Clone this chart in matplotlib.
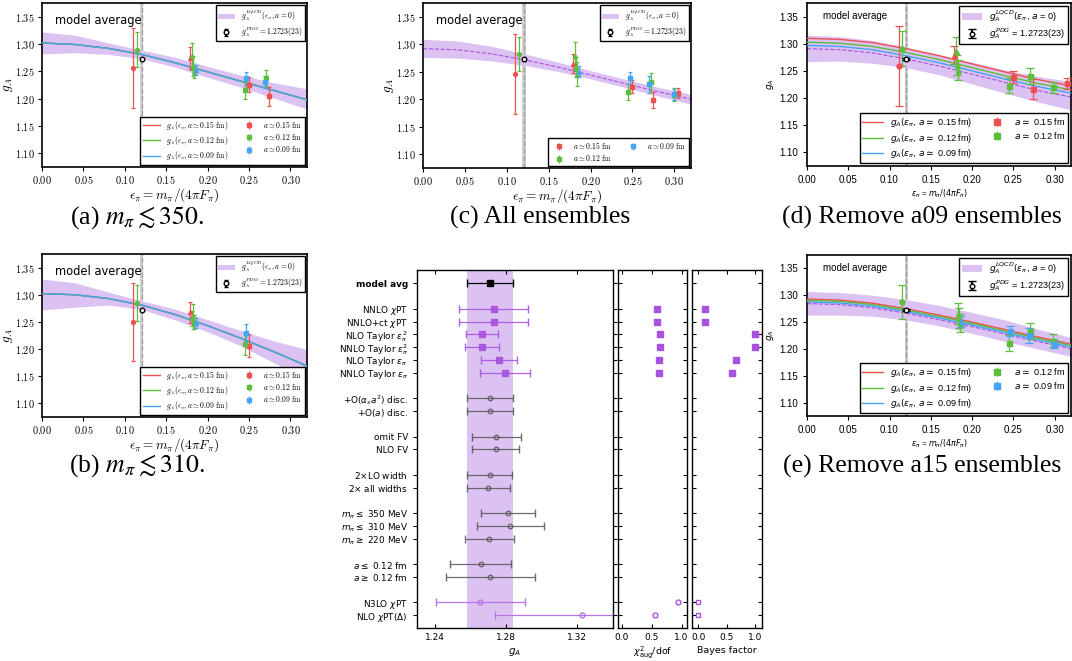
import matplotlib
matplotlib.use('Agg')
from matplotlib import pyplot as plt
from matplotlib.patches import Patch
from matplotlib.ticker import FuncFormatter

plt.rcParams['mathtext.fontset'] = 'cm'
plt.rcParams['font.family'] = ['DejaVu Sans']

W, H = 1072, 661

C15 = '#ee5050'
C12 = '#5cbf3c'
C09 = '#45a5f5'
BAND = '#dcc2f2'
PURPLE = '#a852e0'
PHYS_EPS = 0.1206
PDG_GA = 1.2723
PDG_ERR = 0.0023

# ---- fit curves, read at these epsilon values ----
eps_grid = [0.00, 0.04, 0.08, 0.12, 0.16, 0.20, 0.24, 0.28, 0.32]

# (a) m_pi <~ 350
a_center = [1.302, 1.299, 1.292, 1.281, 1.266, 1.249, 1.232, 1.215, 1.198]
a_upper = [1.322, 1.316, 1.302, 1.289, 1.276, 1.259, 1.243, 1.229, 1.218]
a_lower = [1.282, 1.284, 1.281, 1.273, 1.258, 1.239, 1.221, 1.201, 1.181]
a_eps15 = [0.110, 0.179, 0.2496, 0.2743]
a_ga15 = [1.2556, 1.274, 1.2253, 1.2043]
a_err15 = [0.073, 0.020, 0.014, 0.017]
a_eps12 = [0.1143, 0.181, 0.182, 0.184, 0.2448, 0.2706]
a_ga12 = [1.2895, 1.2772, 1.2593, 1.2494, 1.216, 1.2376]
a_err12 = [0.032, 0.024, 0.018, 0.012, 0.017, 0.014]
a_eps09 = [0.186, 0.2464, 0.269]
a_ga09 = [1.2525, 1.2376, 1.231]
a_err09 = [0.009, 0.012, 0.011]

# (b) m_pi <~ 310
b_center = [1.302, 1.300, 1.293, 1.281, 1.264, 1.243, 1.220, 1.195, 1.169]
b_upper = [1.329, 1.322, 1.305, 1.289, 1.274, 1.254, 1.234, 1.215, 1.199]
b_lower = [1.272, 1.277, 1.281, 1.273, 1.254, 1.232, 1.206, 1.175, 1.142]
b_eps15 = [0.110, 0.179, 0.2496]
b_ga15 = [1.250, 1.2675, 1.2062]
b_err15 = [0.072, 0.019, 0.021]
b_eps12 = [0.1143, 0.181, 0.182, 0.184, 0.2448]
b_ga12 = [1.2845, 1.257, 1.260, 1.250, 1.209]
b_err12 = [0.033, 0.014, 0.023, 0.013, 0.020]
b_eps09 = [0.186, 0.2464]
b_ga09 = [1.248, 1.230]
b_err09 = [0.010, 0.016]

# (c) all ensembles
c_center = [1.292, 1.290, 1.283, 1.272, 1.259, 1.244, 1.229, 1.214, 1.200]
c_upper = [1.309, 1.306, 1.297, 1.283, 1.268, 1.252, 1.237, 1.222, 1.209]
c_lower = [1.276, 1.275, 1.270, 1.262, 1.251, 1.237, 1.222, 1.206, 1.191]
c_eps15 = [0.110, 0.1792, 0.250, 0.2748, 0.305]
c_ga15 = [1.2456, 1.265, 1.2226, 1.1983, 1.2117]
c_err15 = [0.073, 0.017, 0.012, 0.015, 0.009]
c_eps12 = [0.1148, 0.1812, 0.1824, 0.184, 0.2448, 0.272, 0.2992]
c_ga12 = [1.282, 1.2784, 1.259, 1.2456, 1.2135, 1.2317, 1.2086]
c_err12 = [0.031, 0.026, 0.018, 0.022, 0.014, 0.016, 0.011]
c_eps09 = [0.186, 0.2468, 0.270, 0.2992]
c_ga09 = [1.250, 1.239, 1.227, 1.2093]
c_err09 = [0.010, 0.011, 0.015, 0.010]

# (d) remove a09
d_line15 = [1.310, 1.308, 1.302, 1.291, 1.278, 1.263, 1.248, 1.234, 1.2225]
d_line12 = [1.303, 1.301, 1.295, 1.284, 1.271, 1.256, 1.241, 1.227, 1.215]
d_line09 = [1.297, 1.295, 1.289, 1.278, 1.265, 1.250, 1.235, 1.221, 1.209]
d_center = [1.291, 1.289, 1.283, 1.272, 1.259, 1.244, 1.229, 1.214, 1.202]
d_upper = [1.316, 1.313, 1.306, 1.294, 1.280, 1.266, 1.252, 1.240, 1.2305]
d_lower = [1.267, 1.268, 1.264, 1.256, 1.243, 1.226, 1.209, 1.193, 1.178]
d_eps15 = [0.1117, 0.1785, 0.2494, 0.2737, 0.315]
d_ga15 = [1.2593, 1.2795, 1.2385, 1.2164, 1.227]
d_err15 = [0.073, 0.017, 0.011, 0.018, 0.010]
d_eps12 = [0.1146, 0.1806, 0.182, 0.1834, 0.2453, 0.2704, 0.298]
d_ga12 = [1.2906, 1.2875, 1.261, 1.252, 1.2225, 1.241, 1.220]
d_err12 = [0.032, 0.025, 0.018, 0.018, 0.014, 0.015, 0.010]

# (e) remove a15
e_line15 = [1.293, 1.291, 1.285, 1.275, 1.263, 1.250, 1.236, 1.222, 1.209]
e_line12 = [1.2905, 1.2885, 1.2825, 1.2725, 1.2605, 1.2475, 1.2335, 1.2195, 1.2065]
e_line09 = [1.2875, 1.2855, 1.2795, 1.2695, 1.2575, 1.2445, 1.2305, 1.2165, 1.2035]
e_center = [1.2845, 1.2825, 1.2765, 1.2665, 1.2545, 1.2415, 1.2275, 1.2135, 1.2005]
e_upper = [1.307, 1.305, 1.300, 1.292, 1.281, 1.268, 1.254, 1.237, 1.221]
e_lower = [1.263, 1.263, 1.261, 1.254, 1.243, 1.229, 1.214, 1.200, 1.186]
e_eps12 = [0.1152, 0.1827, 0.184, 0.185, 0.2454, 0.2708, 0.2983]
e_ga12 = [1.2873, 1.2659, 1.2579, 1.2487, 1.2106, 1.2333, 1.2149]
e_err12 = [0.031, 0.020, 0.019, 0.017, 0.015, 0.015, 0.012]
e_eps09 = [0.1867, 0.2466, 0.2696, 0.2991]
e_ga09 = [1.2517, 1.2333, 1.2253, 1.2088]
e_err09 = [0.010, 0.010, 0.014, 0.008]

# ---- stability plot ----
groups = [
    ['model avg'],
    [r'NNLO $\chi$PT', r'NNLO+ct $\chi$PT', r'NLO Taylor $\epsilon^2_\pi$',
     r'NNLO Taylor $\epsilon^2_\pi$', r'NLO Taylor $\epsilon_\pi$', r'NNLO Taylor $\epsilon_\pi$'],
    [r'$+\mathrm{O}(\alpha_s a^2)$ disc.', r'$+\mathrm{O}(a)$ disc.'],
    ['omit FV', 'NLO FV'],
    [r'2$\times$LO width', r'2$\times$ all widths'],
    [r'$m_\pi \leq$ 350 MeV', r'$m_\pi \leq$ 310 MeV', r'$m_\pi \geq$ 220 MeV'],
    [r'$a \leq$ 0.12 fm', r'$a \geq$ 0.12 fm'],
    [r'N3LO $\chi$PT', r'NLO $\chi$PT($\Delta$)'],
]
stab_ga = [1.2709, 1.2731, 1.2731, 1.2664, 1.2664, 1.2759, 1.2796, 1.2709, 1.2709,
           1.2746, 1.2742, 1.2709, 1.2701, 1.2811, 1.2824, 1.2705, 1.2657, 1.2711,
           1.2655, 1.3226]
stab_err = [0.0127, 0.0193, 0.0194, 0.0091, 0.0096, 0.0100, 0.0140, 0.0127, 0.0127,
            0.0135, 0.0133, 0.0126, 0.0122, 0.0153, 0.0190, 0.0138, 0.0171, 0.0251,
            0.0249, 0.0489]
chi2_models = [0.594, 0.594, 0.644, 0.644, 0.628, 0.622]
bayes_models = [0.112, 0.112, 1.0, 0.994, 0.665, 0.600]
chi2_extra = [0.944, 0.561]
bayes_extra = [0.0, 0.0]


def add_axes(l, t, r, b):
    return fig.add_axes([l / W, 1 - b / H, (r - l) / W, (b - t) / H])


def marker_for(e):
    if e < 0.15:
        return 'o'
    if e < 0.2:
        return '^'
    return 's'


def plot_points(ax, eps, ga, err, color, label, ms, cap):
    for e, g, s in zip(eps, ga, err):
        ax.errorbar(e, g, yerr=s, fmt=marker_for(e), color=color, ms=ms,
                    capsize=cap, elinewidth=0.9, capthick=0.9, zorder=4)
    proxy = ax.errorbar([], [], yerr=[], fmt='s', color=color, ms=ms + 0.5,
                        capsize=cap, elinewidth=0.9, label=label)
    return proxy


def style_legend(leg, mfam, latex):
    leg.get_frame().set_linewidth(1.0)
    for t in leg.get_texts():
        t.set_math_fontfamily(mfam)
        if not latex:
            t.set_fontfamily('Liberation Sans')


def scatter_panel(ax, upper, lower, center, lines, points, latex, caption_text, caption_xy):
    mfam = 'cm' if latex else 'dejavusans'
    ax.fill_between(eps_grid, lower, upper, color=BAND, lw=0, zorder=1)
    ax.plot(eps_grid, center, ls='--', color=PURPLE, lw=0.8, zorder=2)
    ax.axvspan(PHYS_EPS - 0.0018, PHYS_EPS + 0.0018, color='#d0d0d0', zorder=0, lw=0)
    ax.axvline(PHYS_EPS, color='#a0a0a0', ls='--', lw=1.0, zorder=0.5)
    line_handles = []
    for vals, col, lab in lines:
        h, = ax.plot(eps_grid, vals, color=col, lw=1.0, zorder=3, label=lab)
        line_handles.append(h)
    ms = 2.8 if latex else 3.6
    cap = 1.2 if latex else 2.8
    pt_handles = []
    for eps, ga, err, col, lab in points:
        pt_handles.append(plot_points(ax, eps, ga, err, col, lab, ms, cap))
    pdg = ax.errorbar(PHYS_EPS, PDG_GA, yerr=PDG_ERR, fmt='o', mfc='white', mec='black',
                      ecolor='black', ms=3.3, mew=1.0, capsize=cap, zorder=5)
    band_patch = Patch(facecolor=BAND, edgecolor='none')
    ax.set_xlim(0, 0.32)
    ax.set_ylim(1.075, 1.375)
    ax.set_xticks([0.0, 0.05, 0.10, 0.15, 0.20, 0.25, 0.30])
    ax.set_yticks([1.10, 1.15, 1.20, 1.25, 1.30, 1.35])
    if latex:
        fmt = FuncFormatter(lambda v, p: r'$%.2f$' % v)
        ax.xaxis.set_major_formatter(fmt)
        ax.yaxis.set_major_formatter(fmt)
        ax.tick_params(labelsize=7.4, length=3, width=0.8, pad=2)
        ax.set_xlabel(r'$\epsilon_\pi = m_\pi/(4\pi F_\pi)$', fontsize=9.5, labelpad=0)
        ax.set_ylabel(r'$g_A$', fontsize=9.5, labelpad=0)
        ax.text(0.05, 0.87, 'model average', transform=ax.transAxes, fontsize=8.3)
        lfs = 5.5
        top_labels = [r'$g_A^{LQCD}(\epsilon_\pi, a=0)$', r'$g_A^{PDG} = 1.2723(23)$']
    else:
        ax.xaxis.set_major_formatter(FuncFormatter(lambda v, p: '%.2f' % v))
        ax.yaxis.set_major_formatter(FuncFormatter(lambda v, p: '%.2f' % v))
        for lbl in ax.get_xticklabels() + ax.get_yticklabels():
            lbl.set_fontfamily('Liberation Sans')
        ax.tick_params(labelsize=7, length=3, width=0.8)
        ax.set_xlabel(r'$\epsilon_\pi$ = $m_\pi/(4\pi F_\pi)$', fontsize=5.8, labelpad=2,
                      math_fontfamily='dejavusans', fontfamily='Liberation Sans')
        ax.set_ylabel(r'$g_A$', fontsize=6.5, labelpad=2, math_fontfamily='dejavusans')
        ax.text(0.06, 0.9, 'model average', transform=ax.transAxes, fontsize=7,
                fontfamily='Liberation Sans')
        lfs = 6.6
        top_labels = [r'$g_A^{LQCD}(\epsilon_\pi$, $a$ = 0)', r'$g_A^{PDG}$ = 1.2723(23)']
    for sp in ax.spines.values():
        sp.set_linewidth(1.2)
    prop = {'size': lfs}
    leg1 = ax.legend([band_patch, pdg], top_labels, loc='upper right', prop=prop,
                     fancybox=False, edgecolor='black', framealpha=1, borderaxespad=0.3,
                     handlelength=2.2, labelspacing=0.25, borderpad=0.3)
    style_legend(leg1, mfam, latex)
    ax.add_artist(leg1)
    handles = line_handles + pt_handles
    labels = [h.get_label() for h in handles]
    leg2 = ax.legend(handles, labels, loc='lower right', ncol=2, prop=prop,
                     fancybox=False, edgecolor='black', framealpha=1, borderaxespad=0.3,
                     handlelength=2.2, labelspacing=0.3, columnspacing=1.6, borderpad=0.3)
    style_legend(leg2, mfam, latex)
    fig.text(caption_xy[0] / W, 1 - caption_xy[1] / H, caption_text, ha='center',
             va='center', fontsize=18.5, fontfamily='Liberation Serif', math_fontfamily='stix')


fig = plt.figure(figsize=(W / 100, H / 100), dpi=100)

lat_line = r'$g_A(\epsilon_\pi, a \simeq %s\ \mathrm{fm})$'
lat_pt = r'$a \simeq %s\ \mathrm{fm}$'
sans_line = r'$g_A(\epsilon_\pi$, $a \simeq$ %s fm)'
sans_pt = r'$a \simeq$ %s fm'

ax_a = add_axes(42, 3, 307, 167)
scatter_panel(ax_a, a_upper, a_lower, a_center,
              [(a_center, C15, lat_line % '0.15'), (a_center, C12, lat_line % '0.12'),
               (a_center, C09, lat_line % '0.09')],
              [(a_eps15, a_ga15, a_err15, C15, lat_pt % '0.15'),
               (a_eps12, a_ga12, a_err12, C12, lat_pt % '0.12'),
               (a_eps09, a_ga09, a_err09, C09, lat_pt % '0.09')],
              True, r'(a) $m_\pi \lesssim 350$.', (137, 218))

ax_b = add_axes(42, 254, 307, 417)
scatter_panel(ax_b, b_upper, b_lower, b_center,
              [(b_center, C15, lat_line % '0.15'), (b_center, C12, lat_line % '0.12'),
               (b_center, C09, lat_line % '0.09')],
              [(b_eps15, b_ga15, b_err15, C15, lat_pt % '0.15'),
               (b_eps12, b_ga12, b_err12, C12, lat_pt % '0.12'),
               (b_eps09, b_ga09, b_err09, C09, lat_pt % '0.09')],
              True, r'(b) $m_\pi \lesssim 310$.', (137, 466))

ax_c = add_axes(423, 3, 691, 168)
scatter_panel(ax_c, c_upper, c_lower, c_center, [],
              [(c_eps15, c_ga15, c_err15, C15, lat_pt % '0.15'),
               (c_eps12, c_ga12, c_err12, C12, lat_pt % '0.12'),
               (c_eps09, c_ga09, c_err09, C09, lat_pt % '0.09')],
              True, '(c) All ensembles', (540, 217))

ax_d = add_axes(807, 3, 1071, 166)
scatter_panel(ax_d, d_upper, d_lower, d_center,
              [(d_line15, C15, sans_line % '0.15'), (d_line12, C12, sans_line % '0.12'),
               (d_line09, C09, sans_line % '0.09')],
              [(d_eps15, d_ga15, d_err15, C15, sans_pt % '0.15'),
               (d_eps12, d_ga12, d_err12, C12, sans_pt % '0.12')],
              False, '(d) Remove a09 ensembles', (922, 217))

ax_e = add_axes(807, 255, 1071, 416)
scatter_panel(ax_e, e_upper, e_lower, e_center,
              [(e_line15, C15, sans_line % '0.15'), (e_line12, C12, sans_line % '0.12'),
               (e_line09, C09, sans_line % '0.09')],
              [(e_eps12, e_ga12, e_err12, C12, sans_pt % '0.12'),
               (e_eps09, e_ga09, e_err09, C09, sans_pt % '0.09')],
              False, '(e) Remove a15 ensembles', (922, 466))

# ---- stability plot ----
labels = []
rows = []
r = 0
for grp in groups:
    for lab in grp:
        labels.append(lab)
        rows.append(r)
        r += 1
    r += 1

ax_s = add_axes(417, 270, 613, 628)
ax_c2 = add_axes(618, 270, 687, 628)
ax_bf = add_axes(692, 270, 762, 628)

ax_s.axvspan(stab_ga[0] - stab_err[0], stab_ga[0] + stab_err[0], color=BAND, lw=0, zorder=0)
for i, (g, s, y) in enumerate(zip(stab_ga, stab_err, rows)):
    if i == 0:
        ax_s.errorbar(g, y, xerr=s, fmt='s', color='black', ms=4, capsize=3, elinewidth=0.9)
    elif i <= 6:
        ax_s.errorbar(g, y, xerr=s, fmt='s', color=PURPLE, ms=4, capsize=3,
                      elinewidth=0.9, alpha=0.9)
    elif i >= 18:
        ax_s.errorbar(g, y, xerr=s, fmt='o', color='#b874e6', mfc='none', ms=3.5,
                      capsize=3, elinewidth=0.9)
    else:
        ax_s.errorbar(g, y, xerr=s, fmt='o', color='#555555', mfc='none', ms=3.2,
                      capsize=3, elinewidth=0.9, alpha=0.85)

model_rows = rows[1:7]
extra_rows = rows[18:20]
ax_c2.plot(chi2_models, model_rows, 's', color=PURPLE, ms=4)
ax_c2.plot(chi2_extra, extra_rows, 'o', color=PURPLE, mfc='none', ms=3.5)
ax_bf.plot(bayes_models, model_rows, 's', color=PURPLE, ms=4)
ax_bf.plot(bayes_extra, extra_rows, 's', color=PURPLE, mfc='none', ms=3.5)

for ax in (ax_s, ax_c2, ax_bf):
    ax.set_ylim(27.0, -1.05)
    ax.set_yticks(rows)
    ax.tick_params(axis='y', which='both', left=True, right=True, direction='in',
                   length=3, width=0.8)
    ax.tick_params(axis='x', direction='in', top=True, length=3, width=0.8, labelsize=6.5)
    for sp in ax.spines.values():
        sp.set_linewidth(1.0)

ax_s.set_yticklabels(labels, fontsize=6.4, math_fontfamily='dejavusans')
ax_s.tick_params(axis='y', direction='out')
ax_s.get_yticklabels()[0].set_fontweight('bold')
ax_s.set_xlim(1.23, 1.34)
ax_s.set_xticks([1.24, 1.28, 1.32])
ax_s.set_xticklabels(['1.24', '1.28', '1.32'])
ax_s.set_xlabel(r'$g_A$', fontsize=7.5, math_fontfamily='dejavusans', labelpad=3)

ax_c2.set_yticklabels([])
ax_c2.set_xlim(-0.06, 1.09)
ax_c2.set_xticks([0.0, 0.5, 1.0])
ax_c2.set_xlabel(r'$\chi^2_\mathrm{aug}/$dof', fontsize=6.8, math_fontfamily='dejavusans',
                 labelpad=2)

ax_bf.set_yticklabels([])
ax_bf.set_xlim(-0.11, 1.12)
ax_bf.set_xticks([0.0, 0.5, 1.0])
ax_bf.set_xlabel('Bayes factor', fontsize=6.8, labelpad=3)

fig.savefig('out.png', dpi=100)
